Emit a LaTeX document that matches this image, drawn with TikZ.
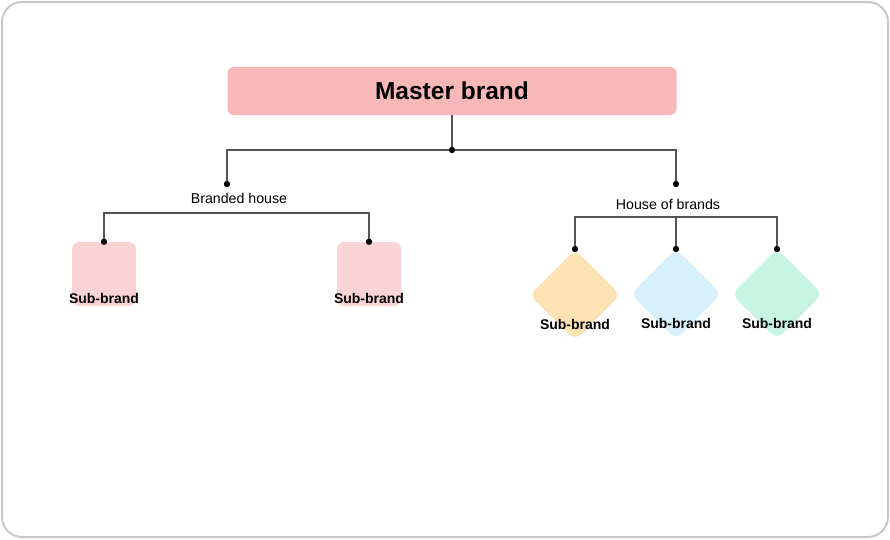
\documentclass[tikz,border=0pt]{standalone}
\usepackage{fontspec}
\setmainfont{Liberation Sans}
\usetikzlibrary{positioning}
\definecolor{framegray}{HTML}{C8C8C8}
\definecolor{linegray}{HTML}{555555}
\definecolor{masterpink}{HTML}{F8B8B8}
\definecolor{subpink}{HTML}{FAD4D4}
\definecolor{suborange}{HTML}{FDE3B4}
\definecolor{subblue}{HTML}{D6F0FC}
\definecolor{subgreen}{HTML}{C8F5E3}
\tikzset{
	conn/.style={draw=linegray, line width=1.3pt},
	dot/.style={circle, fill=black, inner sep=0pt, minimum size=6pt},
	masterbox/.style={rectangle, rounded corners=6pt, fill=masterpink, minimum width=449pt, minimum height=48pt, font=\bfseries\fontsize{24.5}{27}\selectfont},
	subbox/.style={rectangle, rounded corners=7pt, minimum size=64pt, inner sep=0pt},
	subdiamond/.style={rectangle, rounded corners=8pt, minimum size=64pt, inner sep=0pt, rotate=45},
	sublabel/.style={font=\bfseries\fontsize{14}{16}\selectfont, inner sep=0pt},
	grouplabel/.style={font=\fontsize{14.2}{16}\selectfont, inner sep=0pt}
}

\begin{document}
\begin{tikzpicture}[x=1pt,y=-1pt]
	\useasboundingbox (0,0) rectangle (890,539);
	\draw[draw=framegray, line width=2pt, rounded corners=20pt] (2,2) rectangle (888,537);

	\node[masterbox] at (452,91) (master) {Master brand};
	\node[dot] at (452,150) (split) {};
	\node[dot] at (227,184) (bhdot) {}; \node[dot] at (676,184) (hbdot) {};
	\node[grouplabel] at (239,198) (bhlabel) {Branded house}; \node[grouplabel] at (668,204) (hblabel) {House of brands};

	% branded house: sub-brands as squares
	\node[subbox, fill=subpink] at (104,274) (sb1) {}; \node[subbox, fill=subpink] at (369,274) (sb2) {};
	\node[dot] at (sb1.north) (sb1dot) {}; \node[dot] at (sb2.north) (sb2dot) {};
	\node[sublabel] at (104,298) (sb1text) {Sub-brand}; \node[sublabel] at (369,298) (sb2text) {Sub-brand};
	\coordinate (bhbar) at (236,213);

	% house of brands: sub-brands as diamonds
	\node[subdiamond, fill=suborange] at (575,295) (hb1) {}; \node[subdiamond, fill=subblue] at (676,294) (hb2) {}; \node[subdiamond, fill=subgreen] at (777,294) (hb3) {};
	\node[dot] at (575,249) (hb1dot) {}; \node[dot] at (676,249) (hb2dot) {}; \node[dot] at (777,249) (hb3dot) {};
	\node[sublabel] at (575,324) (hb1text) {Sub-brand}; \node[sublabel] at (676,323) (hb2text) {Sub-brand}; \node[sublabel] at (777,323) (hb3text) {Sub-brand};
	\coordinate (hbbar) at (676,217);

	\draw[conn] (master.south) -- (split); \draw[conn] (bhdot) |- (split) -| (hbdot);
	\draw[conn] (sb1dot) |- (bhbar) -| (sb2dot);
	\draw[conn] (hb1dot) |- (hbbar) -| (hb3dot); \draw[conn] (hbbar) -- (hb2dot);
	\node[dot] at (split) {}; \node[dot] at (bhdot) {}; \node[dot] at (hbdot) {};
	\node[dot] at (sb1dot) {}; \node[dot] at (sb2dot) {};
	\node[dot] at (hb1dot) {}; \node[dot] at (hb2dot) {}; \node[dot] at (hb3dot) {};
\end{tikzpicture}
\end{document}
